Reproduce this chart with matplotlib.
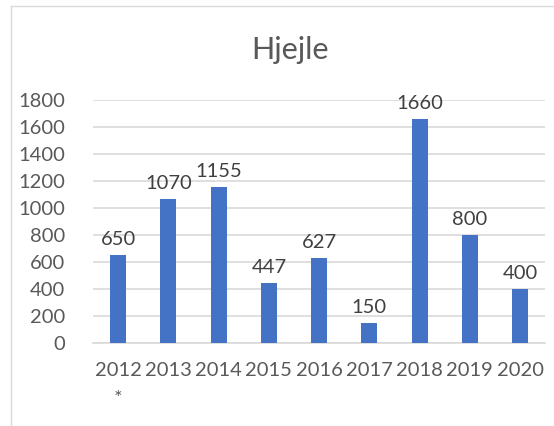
import numpy as np
import matplotlib.pyplot as plt
from matplotlib.lines import Line2D

years = ["2012\n*", "2013", "2014", "2015", "2016", "2017", "2018", "2019", "2020"]
values = [650, 1070, 1155, 447, 627, 150, 1660, 800, 400]
yticks = [0, 200, 400, 600, 800, 1000, 1200, 1400, 1600, 1800]

plt.rcParams['font.family'] = ['Lato', 'DejaVu Sans']
txt = "#595959"
grid = "#D9D9D9"

fig = plt.figure(figsize=(5.54, 4.26), dpi=100)
ax = fig.add_axes([0.168, 0.195, 0.816, 0.57])

x = np.arange(len(years))
bars = ax.bar(x, values, width=0.32, color="#4472C4", zorder=3)
for xi, v in zip(x, values):
    ax.annotate(str(v), (xi, v), xytext=(0, 5), textcoords="offset points",
                ha="center", va="bottom", fontsize=14.5, color="#404040")

ax.set_xlim(-0.5, len(years) - 0.5)
ax.set_ylim(0, 1800)
ax.set_yticks(yticks)
ax.set_xticks(x)
ax.set_xticklabels(years, linespacing=1.75)
ax.yaxis.grid(True, color=grid, linewidth=1.2, zorder=0)
ax.tick_params(length=0, labelsize=14.5, labelcolor=txt)
ax.tick_params(axis="x", pad=14)
ax.tick_params(axis="y", pad=20)
for s in ["top", "right", "left"]:
    ax.spines[s].set_visible(False)
ax.spines["bottom"].set_color(grid)
ax.spines["bottom"].set_linewidth(1.2)

fig.text(0.523, 0.883, "Hjejle", ha="center", va="center", fontsize=22, color=txt)

# chart border (left and top edges visible)
fig.add_artist(Line2D([11 / 554, 11 / 554], [0, 1 - 6 / 426], transform=fig.transFigure, color=grid, lw=1))
fig.add_artist(Line2D([11 / 554, 1], [1 - 6 / 426, 1 - 6 / 426], transform=fig.transFigure, color=grid, lw=1))

fig.savefig("out.png", dpi=100)
